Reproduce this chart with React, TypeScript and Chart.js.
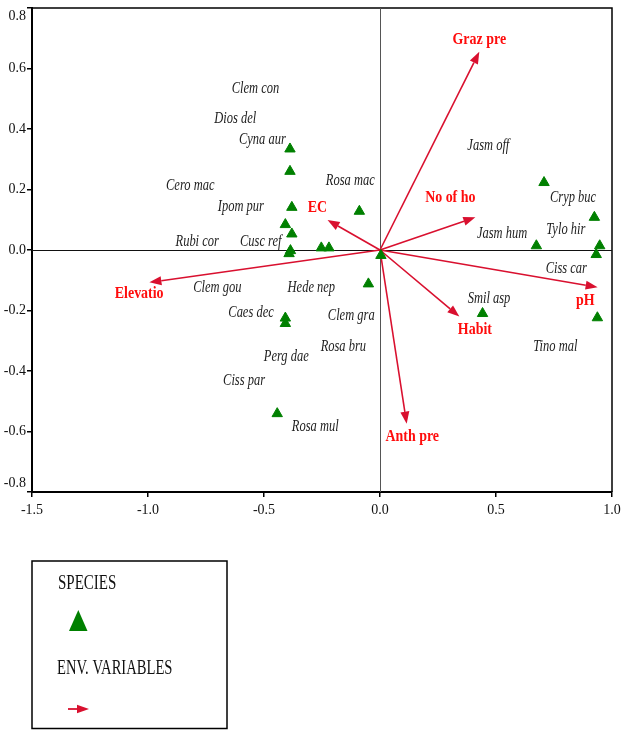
import React, { useEffect, useRef } from 'react';
import { Chart, registerables } from 'chart.js';

Chart.register(...registerables);

// ---- Data ----
const speciesX = [-0.388, -0.388, -0.380, -0.408, -0.380, -0.386, -0.392, -0.253, -0.220, -0.089, 0.004, -0.050, -0.408, -0.408, -0.443, 0.442, 0.674, 0.707, 0.924, 0.947, 0.932, 0.937];
const speciesY = [0.334, 0.260, 0.141, 0.084, 0.053, -0.002, -0.012, 0.007, 0.007, 0.128, -0.018, -0.112, -0.225, -0.243, -0.541, -0.210, 0.014, 0.223, 0.108, 0.014, -0.015, -0.224];

const speciesNames = ['Clem con', 'Dios del', 'Cyna aur', 'Cero mac', 'Ipom pur', 'Rubi cor', 'Cusc ref', 'Rosa mac', 'Jasm off', 'Cryp buc', 'Tylo hir', 'Jasm hum', 'Ciss car', 'Smil asp', 'Tino mal', 'Clem gou', 'Hede nep', 'Caes dec', 'Clem gra', 'Rosa bru', 'Perg dae', 'Ciss par', 'Rosa mul'];
const speciesLabelX = [-0.537, -0.624, -0.507, -0.818, -0.600, -0.788, -0.514, -0.128, 0.467, 0.832, 0.801, 0.526, 0.803, 0.470, 0.756, -0.701, -0.296, -0.556, -0.124, -0.158, -0.404, -0.586, -0.279];
const speciesLabelY = [0.532, 0.433, 0.364, 0.212, 0.143, 0.027, 0.027, 0.229, 0.344, 0.173, 0.067, 0.054, -0.062, -0.161, -0.319, -0.124, -0.124, -0.207, -0.217, -0.319, -0.352, -0.431, -0.583];

const envNames = ['Graz pre', 'No of ho', 'EC', 'Elevatio', 'pH', 'Habit', 'Anth pre'];
const envX = [0.428, 0.411, -0.226, -0.994, 0.938, 0.342, 0.115];
const envY = [0.655, 0.108, 0.099, -0.107, -0.123, -0.220, -0.574];
const envLabelX = [0.428, 0.303, -0.270, -1.038, 0.885, 0.409, 0.139];
const envLabelY = [0.695, 0.173, 0.141, -0.145, -0.167, -0.264, -0.618];

const xTicks = [-1.5, -1.0, -0.5, 0.0, 0.5, 1.0];
const yTicks = [-0.8, -0.6, -0.4, -0.2, 0.0, 0.2, 0.4, 0.6, 0.8];

const legendTitles = ['SPECIES', 'ENV. VARIABLES'];

// ---- Styles ----
const SERIF = "'Liberation Serif', 'Times New Roman', serif";
const GREEN = '#008000';
const ARROW = '#d9102f';
const ENV_TEXT = '#ff0d0d';
const TICK_COLOR = '#111';

function drawArrow(ctx: CanvasRenderingContext2D, x1: number, y1: number, x2: number, y2: number, head: number, half: number, width: number) {
  const ang = Math.atan2(y2 - y1, x2 - x1);
  const bx = x2 - Math.cos(ang) * head;
  const by = y2 - Math.sin(ang) * head;
  ctx.strokeStyle = ARROW;
  ctx.fillStyle = ARROW;
  ctx.lineWidth = width;
  ctx.beginPath();
  ctx.moveTo(x1, y1);
  ctx.lineTo(bx, by);
  ctx.stroke();
  ctx.beginPath();
  ctx.moveTo(x2, y2);
  ctx.lineTo(bx + Math.sin(ang) * half, by - Math.cos(ang) * half);
  ctx.lineTo(bx - Math.sin(ang) * half, by + Math.cos(ang) * half);
  ctx.closePath();
  ctx.fill();
}

function scaledText(ctx: CanvasRenderingContext2D, text: string, x: number, y: number, sx: number) {
  ctx.save();
  ctx.translate(x, y);
  ctx.scale(sx, 1);
  ctx.fillText(text, 0, 0);
  ctx.restore();
}

const biplotPlugin = {
  id: 'biplot',
  beforeDatasetsDraw(chart: any) {
    const { ctx, chartArea: a, scales } = chart;
    const xs = scales.x;
    const ys = scales.y;
    ctx.save();
    // top and right frame
    ctx.strokeStyle = '#000';
    ctx.lineWidth = 1.5;
    ctx.beginPath();
    ctx.moveTo(a.left, a.top);
    ctx.lineTo(a.right, a.top);
    ctx.lineTo(a.right, a.bottom);
    ctx.stroke();
    // zero lines
    const x0 = xs.getPixelForValue(0);
    const y0 = ys.getPixelForValue(0);
    ctx.lineWidth = 1;
    ctx.beginPath();
    ctx.strokeStyle = '#555';
    ctx.moveTo(Math.round(x0) + 0.5, a.top);
    ctx.lineTo(Math.round(x0) + 0.5, a.bottom);
    ctx.stroke();
    ctx.beginPath();
    ctx.strokeStyle = '#111';
    ctx.moveTo(a.left, Math.round(y0) + 0.5);
    ctx.lineTo(a.right, Math.round(y0) + 0.5);
    ctx.stroke();
    // environmental arrows
    envX.forEach((vx, i) => {
      drawArrow(ctx, x0, y0, xs.getPixelForValue(vx), ys.getPixelForValue(envY[i]), 12, 4.5, 1.6);
    });
    ctx.restore();
  },
  afterDatasetsDraw(chart: any) {
    const { ctx, scales } = chart;
    const xs = scales.x;
    const ys = scales.y;
    ctx.save();
    ctx.textAlign = 'center';
    ctx.textBaseline = 'middle';
    ctx.fillStyle = '#222';
    ctx.font = `italic 16px ${SERIF}`;
    speciesNames.forEach((name, i) => {
      scaledText(ctx, name, xs.getPixelForValue(speciesLabelX[i]), ys.getPixelForValue(speciesLabelY[i]), 0.78);
    });
    ctx.fillStyle = ENV_TEXT;
    ctx.font = `bold 17px ${SERIF}`;
    envNames.forEach((name, i) => {
      scaledText(ctx, name, xs.getPixelForValue(envLabelX[i]), ys.getPixelForValue(envLabelY[i]), 0.82);
    });
    ctx.restore();
  },
  afterDraw(chart: any) {
    const { ctx, chartArea: a, scales } = chart;
    const ys = scales.y;
    ctx.save();
    // y tick labels (end labels kept inside the frame, as in the reference)
    ctx.fillStyle = TICK_COLOR;
    ctx.font = `14px ${SERIF}`;
    ctx.textAlign = 'right';
    ctx.textBaseline = 'middle';
    yTicks.forEach((v) => {
      let py = ys.getPixelForValue(v);
      py = Math.min(Math.max(py, a.top + 8), a.bottom - 9);
      ctx.fillText(v.toFixed(1), a.left - 6, py);
    });
    // legend box
    ctx.strokeStyle = '#000';
    ctx.lineWidth = 1.5;
    ctx.strokeRect(32, 561, 195, 167.5);
    ctx.fillStyle = '#111';
    ctx.font = `20px ${SERIF}`;
    ctx.textAlign = 'left';
    ctx.textBaseline = 'alphabetic';
    scaledText(ctx, legendTitles[0], 58, 589, 0.75);
    scaledText(ctx, legendTitles[1], 57, 674, 0.73);
    // species symbol
    ctx.fillStyle = GREEN;
    ctx.beginPath();
    ctx.moveTo(78.3, 610);
    ctx.lineTo(87.5, 631);
    ctx.lineTo(69, 631);
    ctx.closePath();
    ctx.fill();
    // env arrow symbol
    drawArrow(ctx, 68, 709, 89, 709, 12, 4.2, 1.8);
    ctx.restore();
  },
};

export default function App() {
  const ref = useRef<HTMLCanvasElement | null>(null);

  useEffect(() => {
    const canvas = ref.current;
    if (!canvas) return;
    const tickFont = { family: SERIF, size: 14 };
    const chart = new Chart(canvas, {
      type: 'scatter',
      data: {
        datasets: [
          {
            label: 'SPECIES',
            data: speciesX.map((x, i) => ({ x, y: speciesY[i] })),
            pointStyle: 'triangle',
            pointRadius: 6,
            pointBackgroundColor: GREEN,
            pointBorderColor: GREEN,
            pointBorderWidth: 1,
            showLine: false,
          },
        ],
      },
      options: {
        responsive: false,
        animation: false,
        events: [],
        layout: { padding: { top: 8, right: 9, left: 0, bottom: 0 } },
        plugins: {
          legend: { display: false },
          tooltip: { enabled: false },
          title: { display: false },
        },
        scales: {
          x: {
            type: 'linear',
            min: -1.5,
            max: 1.0,
            afterBuildTicks: (s: any) => {
              s.ticks = xTicks.map((v) => ({ value: v }));
            },
            afterFit: (s: any) => {
              s.height = 238;
              s.paddingLeft = 0;
              s.paddingRight = 0;
            },
            ticks: {
              autoSkip: false,
              maxRotation: 0,
              padding: 5,
              color: TICK_COLOR,
              font: tickFont,
              callback: (v: any) => Number(v).toFixed(1),
            },
            grid: { drawOnChartArea: false, drawTicks: true, tickLength: 5, color: '#000', lineWidth: 1.5 },
            border: { display: true, color: '#000', width: 2 },
          },
          y: {
            type: 'linear',
            min: -0.8,
            max: 0.8,
            afterBuildTicks: (s: any) => {
              s.ticks = yTicks.map((v) => ({ value: v }));
            },
            afterFit: (s: any) => {
              s.width = 32;
              s.paddingTop = 0;
              s.paddingBottom = 0;
            },
            ticks: {
              display: false,
              autoSkip: false,
            },
            grid: { drawOnChartArea: false, drawTicks: true, tickLength: 5, color: '#000', lineWidth: 1.5 },
            border: { display: true, color: '#000', width: 2 },
          },
        },
      } as any,
      plugins: [biplotPlugin],
    });
    return () => chart.destroy();
  }, []);

  return (
    <div style={{ position: 'absolute', left: 0, top: 0, width: 621, height: 730, background: '#fff' }}>
      <canvas ref={ref} width={621} height={730} style={{ display: 'block', width: 621, height: 730 }} />
    </div>
  );
}
